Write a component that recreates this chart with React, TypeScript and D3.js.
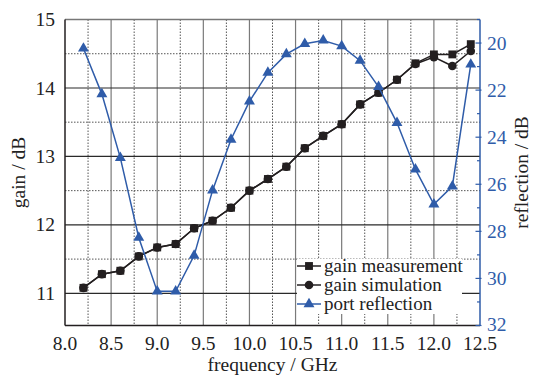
import React from "react";
import * as d3 from "d3";

const freq = [8.2, 8.4, 8.6, 8.8, 9.0, 9.2, 9.4, 9.6, 9.8, 10.0, 10.2, 10.4, 10.6, 10.8, 11.0, 11.2, 11.4, 11.6, 11.8, 12.0, 12.2, 12.4];
const gainMeas = [11.08, 11.28, 11.33, 11.54, 11.67, 11.72, 11.95, 12.06, 12.25, 12.5, 12.67, 12.85, 13.12, 13.3, 13.47, 13.76, 13.93, 14.12, 14.36, 14.49, 14.49, 14.64];
const gainSim = [11.08, 11.28, 11.33, 11.54, 11.67, 11.72, 11.95, 12.06, 12.25, 12.5, 12.67, 12.85, 13.12, 13.3, 13.47, 13.76, 13.93, 14.12, 14.35, 14.45, 14.32, 14.54];
const reflection = [20.23, 22.17, 24.88, 28.27, 30.55, 30.55, 29.03, 26.26, 24.1, 22.48, 21.26, 20.47, 20.03, 19.89, 20.13, 20.75, 21.86, 23.39, 25.37, 26.85, 26.09, 20.91];

const xTicks = [8.0, 8.5, 9.0, 9.5, 10.0, 10.5, 11.0, 11.5, 12.0, 12.5];
const gainTicks = [11, 12, 13, 14, 15];
const reflTicks = [20, 22, 24, 26, 28, 30, 32];
const legendLabels = ["gain measurement", "gain simulation", "port reflection"];

const W = 533;
const H = 376;
const left = 65, right = 480, top = 19.5, bottom = 325.5;
const BLUE = "#2f5ca9";
const BLACK = "#231f20";
const FONT = "'Liberation Serif', 'DejaVu Serif', serif";

export default function App() {
  const x = d3.scaleLinear().domain([8, 12.5]).range([left, right]);
  const yG = d3.scaleLinear().domain([10.53, 15]).range([bottom, top]);
  const yR = d3.scaleLinear().domain([19, 32]).range([top, bottom]);

  const minorX = d3.range(8.25, 12.5, 0.5);
  const minorG = [11.5, 12.5, 13.5, 14.5];
  const reflMinor = d3.range(19, 33, 1);

  const idx = freq.map((_, i) => i);
  const lineMeas = d3.line<number>().x(i => x(freq[i])).y(i => yG(gainMeas[i]));
  const lineSim = d3.line<number>().x(i => x(freq[i])).y(i => yG(gainSim[i]));
  const lineRefl = d3.line<number>().x(i => x(freq[i])).y(i => yR(reflection[i]));
  const tri = d3.symbol(d3.symbolTriangle, 52)() as string;
  const sq = d3.symbol(d3.symbolSquare, 62)() as string;

  const lgX = 297, lgY = 259, lgW = 165, lgH = 55;
  const rowY = (k: number) => lgY + 7 + k * 19;

  return (
    <svg width={W} height={H} style={{ position: "absolute", left: 0, top: 0, background: "#fff" }} fontFamily={FONT}>
      {/* grid */}
      <g>
        {minorX.map(v => (
          <line key={"mx" + v} x1={x(v)} x2={x(v)} y1={top} y2={bottom} stroke="#555" strokeWidth={1} strokeDasharray="1.5,1.5" />
        ))}
        {minorG.map(v => (
          <line key={"mg" + v} x1={left} x2={right} y1={yG(v)} y2={yG(v)} stroke="#555" strokeWidth={1} strokeDasharray="1.5,1.5" />
        ))}
        {xTicks.slice(1, -1).map(v => (
          <line key={"gx" + v} x1={x(v)} x2={x(v)} y1={top} y2={bottom} stroke="#7a7a7a" strokeWidth={1.2} />
        ))}
        {gainTicks.slice(0, -1).map(v => (
          <line key={"gg" + v} x1={left} x2={right} y1={yG(v)} y2={yG(v)} stroke="#2a2a2a" strokeWidth={1.1} />
        ))}
      </g>

      {/* frame */}
      <line x1={left} x2={right} y1={top} y2={top} stroke="#777" strokeWidth={1.5} />
      <line x1={left} x2={left} y1={top} y2={bottom} stroke={BLACK} strokeWidth={1.5} />
      <line x1={left} x2={right} y1={bottom} y2={bottom} stroke={BLACK} strokeWidth={1.5} />
      <line x1={right} x2={right} y1={top} y2={bottom} stroke={BLUE} strokeWidth={1.5} />
      {reflMinor.map(v => (
        <line key={"rt" + v} x1={right - (v % 2 === 0 ? 4.5 : 3)} x2={right + (v % 2 === 0 ? 1.5 : 0)} y1={yR(v)} y2={yR(v)} stroke={BLUE} strokeWidth={1.2} />
      ))}

      {/* series */}
      <path d={lineSim(idx) || ""} fill="none" stroke={BLACK} strokeWidth={1.5} />
      <path d={lineMeas(idx) || ""} fill="none" stroke={BLACK} strokeWidth={1.5} />
      {idx.map(i => (
        <circle key={"c" + i} cx={x(freq[i])} cy={yG(gainSim[i])} r={4.3} fill={BLACK} />
      ))}
      {idx.map(i => (
        <path key={"s" + i} d={sq} transform={`translate(${x(freq[i])},${yG(gainMeas[i])})`} fill={BLACK} />
      ))}
      <path d={lineRefl(idx) || ""} fill="none" stroke={BLUE} strokeWidth={1.5} />
      {idx.map(i => (
        <path key={"t" + i} d={tri} transform={`translate(${x(freq[i])},${yR(reflection[i])})`} fill={BLUE} />
      ))}

      {/* legend */}
      <rect x={lgX} y={lgY} width={lgW} height={lgH} fill="#fff" />
      {legendLabels.map((t, k) => {
        const cy = rowY(k);
        const col = k === 2 ? BLUE : BLACK;
        return (
          <g key={t}>
            <line x1={lgX} x2={lgX + 24} y1={cy} y2={cy} stroke={col} strokeWidth={1.5} />
            {k === 0 && <path d={sq} transform={`translate(${lgX + 12},${cy})`} fill={col} />}
            {k === 1 && <circle cx={lgX + 12} cy={cy} r={4.3} fill={col} />}
            {k === 2 && <path d={tri} transform={`translate(${lgX + 12},${cy})`} fill={col} />}
            <text x={lgX + 27} y={cy} dy="0.32em" fontSize={19} fill="#222">{t}</text>
          </g>
        );
      })}

      {/* axes labels */}
      {xTicks.map(v => (
        <text key={"xl" + v} x={x(v)} y={350} textAnchor="middle" fontSize={19.5} fill="#222">{v.toFixed(1)}</text>
      ))}
      {gainTicks.map(v => (
        <text key={"gl" + v} x={55} y={yG(v)} dy="0.34em" textAnchor="end" fontSize={19.5} fill="#222">{v}</text>
      ))}
      {reflTicks.map(v => (
        <text key={"rl" + v} x={487} y={yR(v) - (v === 32 ? 1.5 : 0)} dy="0.34em" textAnchor="start" fontSize={19.5} fill={BLUE}>{v}</text>
      ))}
      <text x={(left + right) / 2} y={371} textAnchor="middle" fontSize={19.5} fill="#222">frequency / GHz</text>
      <text transform={`translate(25,${(top + bottom) / 2}) rotate(-90)`} textAnchor="middle" fontSize={19.5} fill="#222">gain / dB</text>
      <text transform={`translate(528,${(top + bottom) / 2}) rotate(-90)`} textAnchor="middle" fontSize={19.5} fill="#222">reflection / dB</text>
    </svg>
  );
}
